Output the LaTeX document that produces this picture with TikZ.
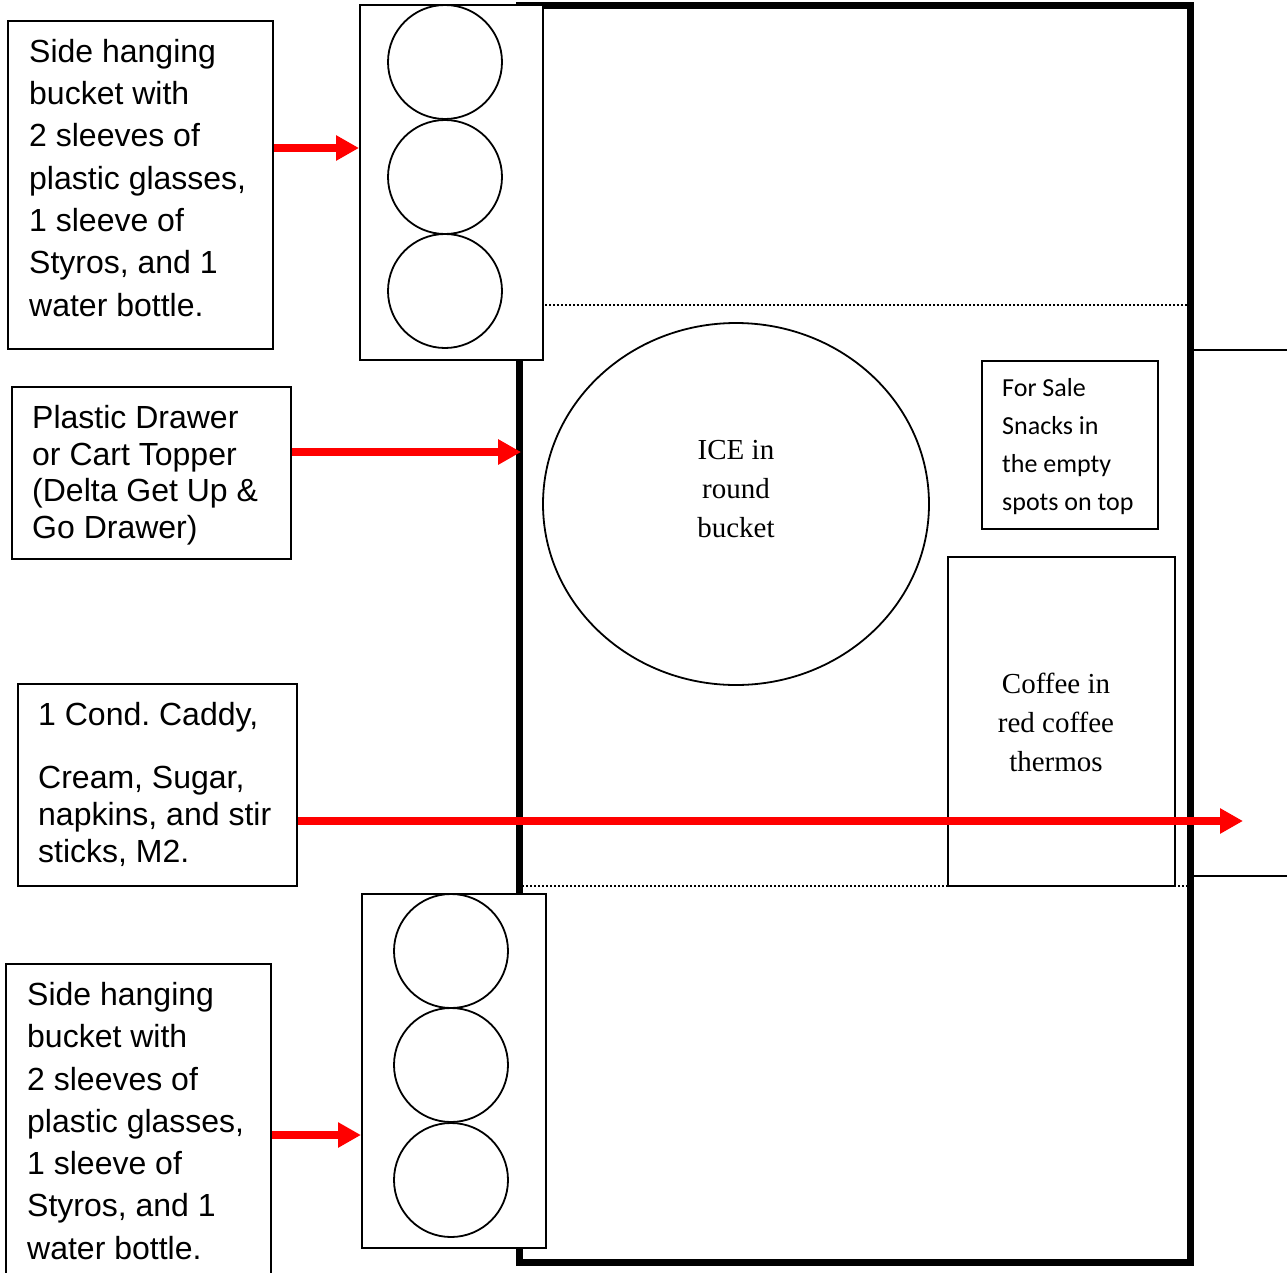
\documentclass[tikz,border=0pt]{standalone}
\usepackage{fontspec}
\setmainfont{Liberation Serif}
\newfontfamily\arialfont{Liberation Sans}
\newfontfamily\calibrifont{Carlito}
\usepackage{tikz}
\usetikzlibrary{arrows.meta,positioning,shapes.geometric}

\begin{document}
\begin{tikzpicture}[x=1pt,y=-1pt,
  frame/.style={draw,rectangle,line width=7pt,inner sep=0},
  box/.style={draw,rectangle,line width=2pt,fill=white,inner sep=0},
  cup/.style={draw,circle,line width=1.8pt,minimum size=114pt,inner sep=0},
  zone/.style={draw,rectangle,line width=1.8pt,dash pattern=on 2pt off 2pt,inner sep=0},
  note/.style={anchor=north west,inner sep=0,align=left,font=\arialfont\fontsize{32}{42.3}\selectfont},
  serif/.style={inner sep=0,align=center,font=\fontsize{29}{39}\selectfont},
  redarr/.style={-{Triangle[length=23pt,width=24pt]},line width=7.5pt,red}
]
\clip (0,0) rectangle (1287,1272);

% Cart outline and middle shelf
\node[frame,minimum width=671pt,minimum height=1256.5pt] (cart) at (854.5,633.75) {};
\node[zone,minimum width=666pt,minimum height=581pt] (mid) at (855,595.5) {};
\draw[line width=2pt] (1193,350) -- (1287,350);
\draw[line width=2pt] (1193,876) -- (1287,876);

% Side buckets
\node[box,minimum width=183pt,minimum height=355pt] (bkt1) at (451.5,182.5) {};
\node[cup] (c1) at (445,62) {};
\node[cup] (c2) at (445,177) {};
\node[cup] (c3) at (445,291) {};
\node[box,minimum width=184pt,minimum height=354pt] (bkt2) at (454,1071) {};
\node[cup] (c4) at (451,951) {};
\node[cup] (c5) at (451,1065) {};
\node[cup] (c6) at (451,1180) {};

% Items on the shelf
\node[draw,ellipse,line width=1.8pt,minimum width=386pt,minimum height=362pt,inner sep=0] (ice) at (736,504) {};
\node[serif] (icetxt) at (736,489) {ICE in\\round\\bucket};
\node[box,minimum width=176pt,minimum height=168pt] (sale) at (1070,445) {};
\node[anchor=north west,inner sep=0,align=left,font=\calibrifont\fontsize{26}{38}\selectfont] (saletxt) at (1002,378) {For Sale\\Snacks in\\the empty\\spots on top};
\node[box,fill=none,minimum width=227pt,minimum height=329pt] (coffee) at (1061.5,721.5) {};
\node[serif] (coffeetxt) at (1056,722) {Coffee in\\red coffee\\thermos};

% Labels on the left
\node[box,minimum width=265pt,minimum height=328pt] (side1) at (140.5,185) {};
\node[note] (t1) at (29,39) {Side hanging\\bucket with\\2 sleeves of\\plastic glasses,\\1 sleeve of\\Styros, and 1\\water bottle.};
\node[box,minimum width=279pt,minimum height=172pt] (drawer) at (151.5,473) {};
\node[note,font=\arialfont\fontsize{32}{36.7}\selectfont] (t2) at (32,405) {Plastic Drawer\\or Cart Topper\\(Delta Get Up \&\\Go Drawer)};
\node[box,minimum width=279pt,minimum height=202pt] (caddy) at (157.5,785) {};
\node[note,font=\arialfont\fontsize{32}{37}\selectfont] (t3) at (38,702) {1 Cond.\ Caddy,\\[26pt]Cream, Sugar,\\napkins, and stir\\sticks, M2.};
\node[box,minimum width=265pt,minimum height=326pt] (side2) at (138.5,1127) {};
\node[note] (t4) at (27,982) {Side hanging\\bucket with\\2 sleeves of\\plastic glasses,\\1 sleeve of\\Styros, and 1\\water bottle.};

% Arrows
\coordinate (a1) at ([yshift=37pt]side1.east);
\coordinate (a2) at ([yshift=21pt]drawer.east);
\coordinate (a3) at ([yshift=-36pt]caddy.east);
\coordinate (a3end) at (1243,821);
\coordinate (a4) at ([yshift=-8pt]side2.east);
\draw[redarr] (a1) -- (a1 -| bkt1.west);
\draw[redarr] (a2) -- (a2 -| mid.west);
\draw[redarr] (a3) -- (a3end);
\draw[redarr] (a4) -- (a4 -| bkt2.west);

\end{tikzpicture}
\end{document}
